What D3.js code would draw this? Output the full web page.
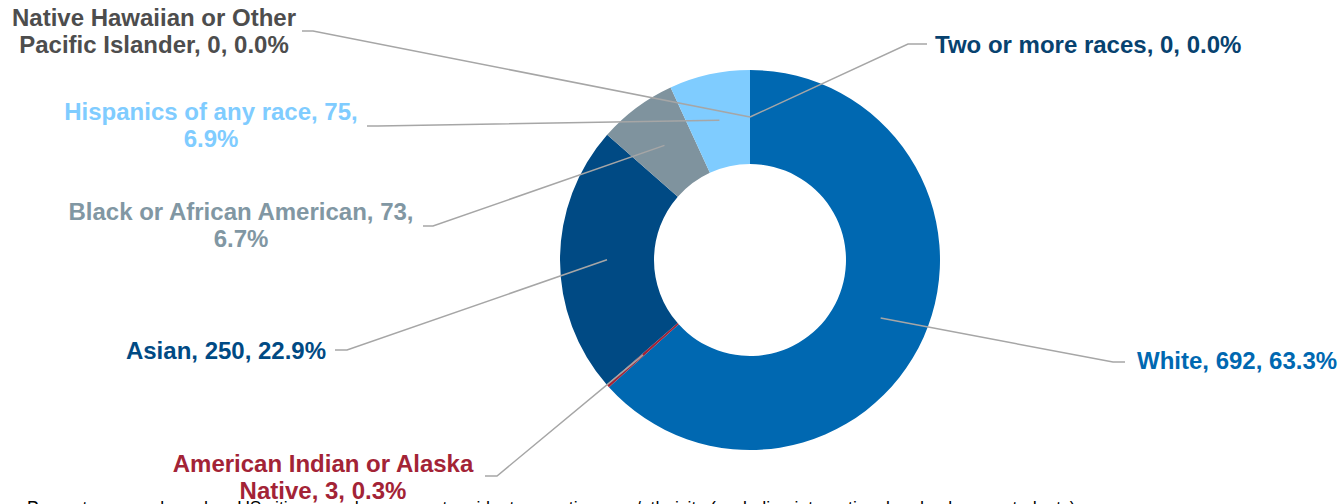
<!DOCTYPE html>
<html>
<head>
<meta charset="utf-8">
<script src="https://cdn.jsdelivr.net/npm/d3@7"></script>
<style>
  html, body { margin: 0; padding: 0; background: #fff; overflow: hidden; }
  svg text { font-family: "Liberation Sans", Arial, sans-serif; }
</style>
</head>
<body>
<svg id="chart" width="1340" height="504"></svg>
<script>
// data, clockwise from 12 o'clock
const categories = ['White', 'American Indian or Alaska Native', 'Asian', 'Black or African American',
  'Hispanics of any race', 'Native Hawaiian or Other Pacific Islander', 'Two or more races'];
const counts = [692, 3, 250, 73, 75, 0, 0];
const percents = ['63.3%', '0.3%', '22.9%', '6.7%', '6.9%', '0.0%', '0.0%'];
// how each data label wraps
const labelLines = [
  ['White, 692, 63.3%'],
  ['American Indian or Alaska', 'Native, 3, 0.3%'],
  ['Asian, 250, 22.9%'],
  ['Black or African American, 73,', '6.7%'],
  ['Hispanics of any race, 75,', '6.9%'],
  ['Native Hawaiian or Other', 'Pacific Islander, 0, 0.0%'],
  ['Two or more races, 0, 0.0%']
];

const sliceColors = ['#0068b1', '#a32336', '#004a84', '#7f939e', '#7fccff', '#4d4d4d', '#07426f'];
const textColors  = ['#0068b1', '#a32336', '#004a84', '#8197a3', '#7fccff', '#4d4d4d', '#07426f'];

// label placement: x, first baseline, anchor, elbow x, elbow y, end x
const labelLayout = [
  { x: 1137, y: 369, anchor: 'start',  ex: 1113, ey: 362, hx: 1125 },
  { x: 323,  y: 472, anchor: 'middle', ex: 497,  ey: 476, hx: 485 },
  { x: 226,  y: 359, anchor: 'middle', ex: 347,  ey: 350, hx: 335 },
  { x: 241,  y: 220, anchor: 'middle', ex: 433,  ey: 226, hx: 423 },
  { x: 211,  y: 120, anchor: 'middle', ex: 378,  ey: 126, hx: 367 },
  { x: 154,  y: 26,  anchor: 'middle', ex: 313,  ey: 31,  hx: 302 },
  { x: 935,  y: 53,  anchor: 'start',  ex: 908,  ey: 44,  hx: 927 }
];

const footnote = 'Percentages are based on US citizens and permanent residents reporting race/ethnicity (excluding international and unknown students).';

const svg = d3.select('#chart');
const cx = 750, cy = 260;
const outerR = 190, innerR = 96;

const pie = d3.pie().sort(null).value(d => d);
const arcs = pie(counts);
const arc = d3.arc().innerRadius(innerR).outerRadius(outerR);

const g = svg.append('g').attr('transform', `translate(${cx},${cy})`);

g.selectAll('path.slice')
  .data(arcs)
  .join('path')
  .attr('class', 'slice')
  .attr('d', arc)
  .attr('fill', (d, i) => sliceColors[i]);

// leader lines
const line = d3.line();
svg.selectAll('path.leader')
  .data(arcs)
  .join('path')
  .attr('class', 'leader')
  .attr('d', (d, i) => {
    const c = arc.centroid(d);
    const l = labelLayout[i];
    return line([[cx + c[0], cy + c[1]], [l.ex, l.ey], [l.hx, l.ey]]);
  })
  .attr('fill', 'none')
  .attr('stroke', '#a6a6a6')
  .attr('stroke-width', 1.5);

// labels
categories.forEach((cat, i) => {
  const l = labelLayout[i];
  const t = svg.append('text')
    .attr('x', l.x)
    .attr('y', l.y)
    .attr('text-anchor', l.anchor)
    .attr('font-size', 24)
    .attr('font-weight', 'bold')
    .attr('fill', textColors[i]);
  labelLines[i].forEach((s, j) => {
    t.append('tspan')
      .attr('x', l.x)
      .attr('y', l.y + j * 27)
      .text(s);
  });
});

// footnote, mostly below the visible area
svg.append('text')
  .attr('x', 27)
  .attr('y', 514)
  .attr('font-size', 17.5)
  .attr('fill', '#000')
  .text(footnote);
</script>
</body>
</html>
